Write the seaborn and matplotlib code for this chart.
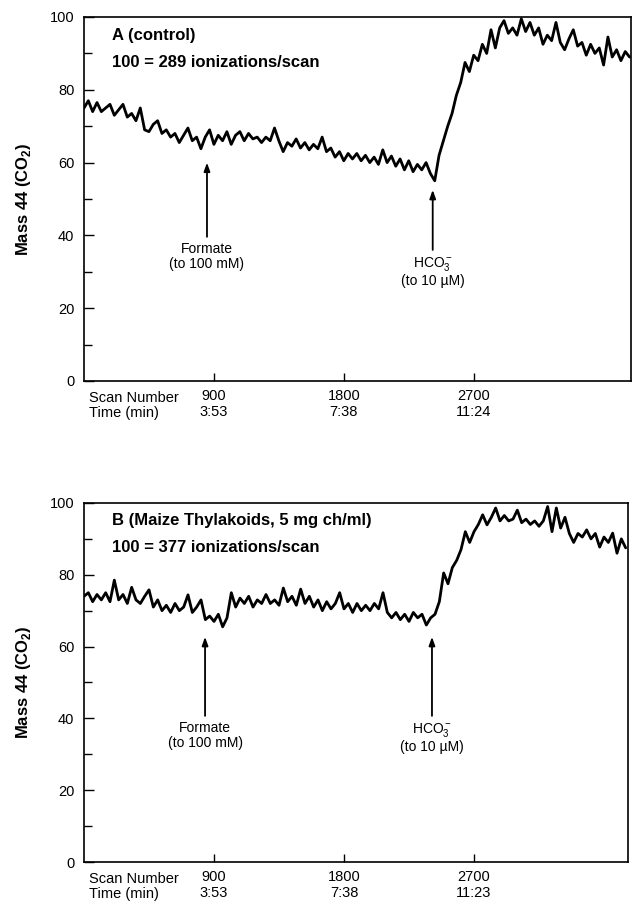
import numpy as np
import pandas as pd
import matplotlib
matplotlib.use("Agg")
import matplotlib.pyplot as plt
import seaborn as sns

# ---------- data ----------

SCAN_STEP = 30

trace_a = [
    75, 77, 74, 76.5, 74, 75, 76, 73, 74.5, 76, 72.5, 73.5, 71.5, 75, 69, 68.5,
    70.5, 71.5, 68, 69, 67, 68, 65.5, 67.5, 69.5, 66, 67, 63.8, 67, 69, 65, 67.5,
    66, 68.5, 65, 67.5, 68.5, 66, 68, 66.5, 67, 65.5, 67, 66, 69.5, 66, 63, 65.5,
    64.5, 66.5, 64, 65.5, 63.5, 65, 63.8, 67, 63, 64, 61.5, 63, 60.5, 62.5, 61,
    62.5, 60.5, 62, 60, 61.5, 59.5, 63.5, 60, 61.8, 59, 61, 58, 60.5, 57.5, 59.5,
    58, 60, 57, 55, 62, 66, 70, 73.5, 78.5, 82, 87.5, 85, 89.5, 88, 92.5, 90,
    96.5, 91.5, 97, 99, 95.5, 97, 95, 99.5, 96, 98.5, 95, 97, 92.5, 95, 93.5,
    98.5, 93, 91, 94, 96.5, 92, 93, 89.5, 92.5, 90, 91.5, 86.8, 94.5, 89, 91,
    88, 90.5, 89,
]

trace_b = [
    74, 75, 72.5, 74.5, 73, 75, 72.5, 78.5, 73, 74.5, 72, 76.5, 73, 72, 74, 75.8,
    71, 73, 70, 71.5, 69.5, 72, 70, 71, 74.4, 69.5, 71, 73, 67.5, 68.5, 67, 69,
    65.5, 68, 75, 71, 73.5, 72, 74, 71, 73, 72, 74.5, 72, 73, 71.5, 76.3, 72.5,
    74, 71.5, 76, 72, 74, 71, 73, 70, 72.5, 70.5, 72, 75, 70.5, 72, 69.5, 72, 70,
    71.5, 70, 72, 70.5, 75, 69.5, 68, 69.5, 67.5, 69, 67, 69.5, 68, 69, 66, 68,
    69, 72.5, 80.5, 77.5, 82, 84, 87, 92, 89, 92, 94, 96.7, 93.9, 96, 98.6, 95,
    96.5, 95, 95.5, 98, 94.5, 95.5, 94, 95, 93.5, 95, 99, 92, 98.6, 93, 96, 91.5,
    89, 91.5, 90.5, 92.5, 90, 91.5, 87.7, 90.5, 89, 91.6, 86, 90, 87.5,
]

tick_scans = [900, 1800, 2700]
tick_times_a = ["3:53", "7:38", "11:24"]
tick_times_b = ["3:53", "7:38", "11:23"]

panel_titles = ["A (control)", "B (Maize Thylakoids, 5 mg ch/ml)"]
panel_scales = ["100 = 289 ionizations/scan", "100 = 377 ionizations/scan"]

# arrow (scan, tail value, head value) for formate / bicarbonate additions
formate_arrows = [(852, 39.6, 60.0), (838, 40.7, 62.7)]
hco3_arrows = [(2416, 36.0, 52.5), (2409, 40.7, 62.7)]

# ---------- style ----------

sns.set_style("ticks")
plt.rcParams.update({
    "font.family": ["Liberation Sans", "DejaVu Sans"],
    "mathtext.fontset": "custom",
    "mathtext.rm": "Liberation Sans",
    "mathtext.bf": "Liberation Sans:bold",
    "axes.linewidth": 1.2,
    "text.color": "black",
    "axes.labelcolor": "black",
    "xtick.color": "black",
    "ytick.color": "black",
    "axes.edgecolor": "black",
})

fig = plt.figure(figsize=(6.34, 9.09), dpi=100)
ax_a = fig.add_axes([0.1325, 0.5809, 0.8628, 0.4004])
ax_b = fig.add_axes([0.1325, 0.0517, 0.8580, 0.3950])


def draw_panel(ax, trace, times, title, scale, formate, hco3, xmax):
    df = pd.DataFrame({"scan": np.arange(len(trace)) * SCAN_STEP, "mass44": trace})
    sns.lineplot(data=df, x="scan", y="mass44", ax=ax, color="black", lw=2.0)

    ax.set_xlim(0, xmax)
    ax.set_ylim(0, 100)
    ax.set_yticks(range(0, 101, 20))
    ax.set_yticks(range(10, 100, 20), minor=True)
    ax.set_xticks(tick_scans)
    ax.set_xticklabels([f"{s}\n{t}" for s, t in zip(tick_scans, times)],
                       linespacing=1.15)
    ax.tick_params(axis="both", which="both", direction="in", labelsize=10.5,
                   width=1.0)
    ax.tick_params(axis="y", which="major", length=7, pad=7)
    ax.tick_params(axis="y", which="minor", length=6)
    ax.tick_params(axis="x", which="major", length=6, pad=6)
    for sp in ax.spines.values():
        sp.set_visible(True)

    ax.set_xlabel("")
    ax.set_ylabel(r"Mass 44 (CO$_\mathbf{2}$)", fontsize=12, fontweight="bold",
                  labelpad=12)

    ax.text(0.009, -0.027, "Scan Number\nTime (min)", transform=ax.transAxes,
            ha="left", va="top", fontsize=10.5, linespacing=1.15)

    ax.text(0.052, 0.95, title, transform=ax.transAxes, ha="left", va="center",
            fontsize=12, fontweight="bold")
    ax.text(0.052, 0.875, scale, transform=ax.transAxes, ha="left", va="center",
            fontsize=12, fontweight="bold")

    arrow_kw = dict(arrowstyle="-|>,head_length=0.5,head_width=0.18",
                    color="black", lw=1.3, shrinkA=0, shrinkB=0)
    fx, ftail, fhead = formate
    ax.annotate("", xy=(fx, fhead), xytext=(fx, ftail), arrowprops=arrow_kw)
    ax.text(fx, ftail - 1.5, "Formate\n(to 100 mM)", ha="center", va="top",
            fontsize=10, linespacing=1.1)
    hx, htail, hhead = hco3
    ax.annotate("", xy=(hx, hhead), xytext=(hx, htail), arrowprops=arrow_kw)
    ax.text(hx, htail - 1.5, "HCO$_3^-$\n(to 10 \u00b5M)", ha="center", va="top",
            fontsize=10, linespacing=1.1)


draw_panel(ax_a, trace_a, tick_times_a, panel_titles[0], panel_scales[0],
           formate_arrows[0], hco3_arrows[0], 3790)
draw_panel(ax_b, trace_b, tick_times_b, panel_titles[1], panel_scales[1],
           formate_arrows[1], hco3_arrows[1], 3766)

fig.savefig("out.png", dpi=100)
plt.close(fig)
